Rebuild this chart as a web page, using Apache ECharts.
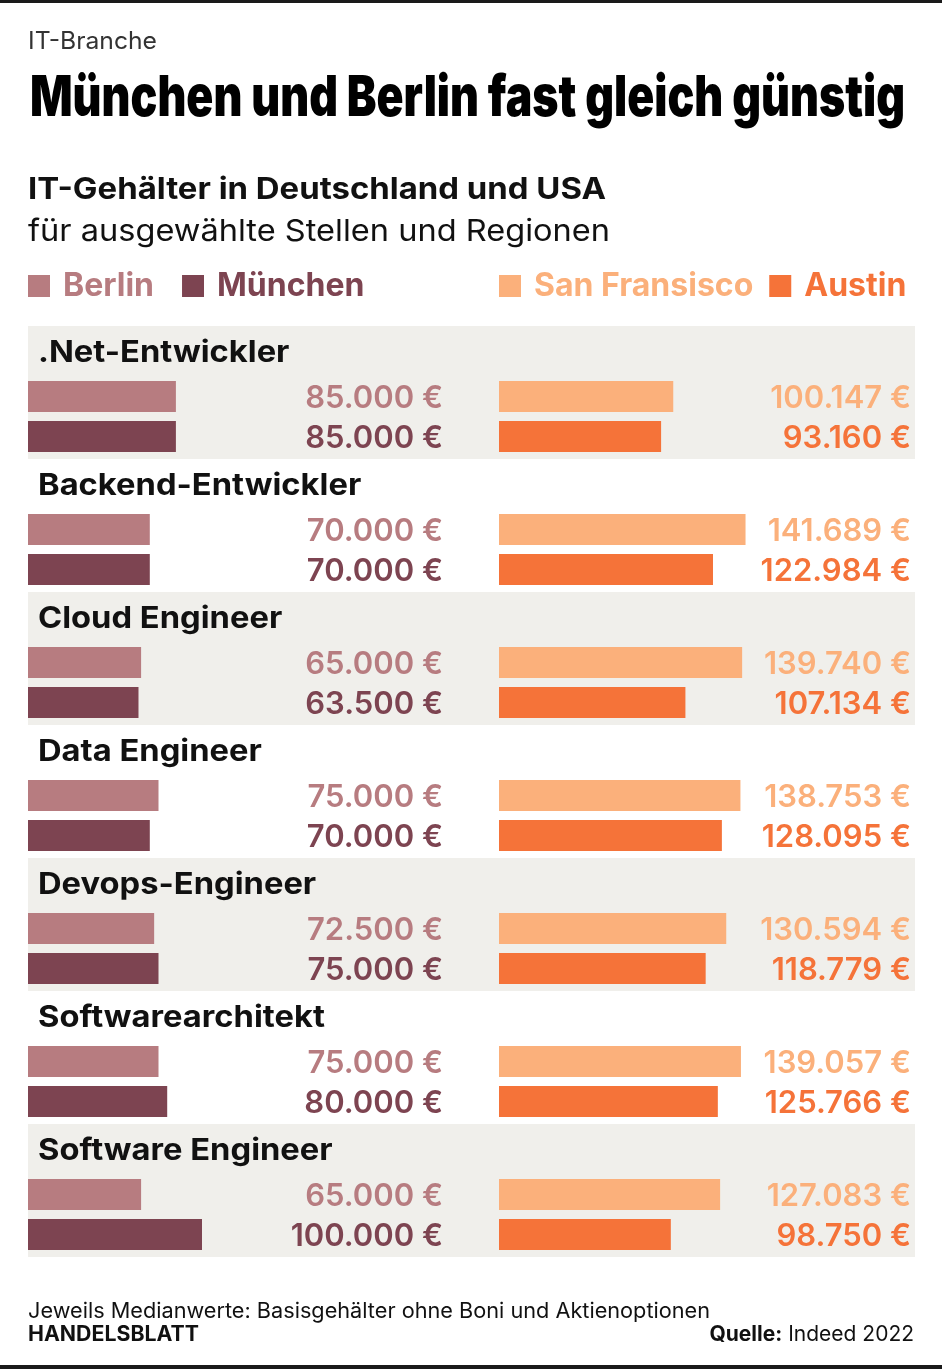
<!DOCTYPE html>
<html>
<head>
<meta charset="utf-8">
<script src="https://cdn.jsdelivr.net/npm/echarts@6/dist/echarts.min.js"></script>
<style>
html,body{margin:0;padding:0;background:#fff;}
#chart{width:942px;height:1369px;}
</style>
</head>
<body>
<div id="chart"></div>
<script>
// ---- data ----
const categories = ['.Net-Entwickler','Backend-Entwickler','Cloud Engineer','Data Engineer','Devops-Engineer','Softwarearchitekt','Software Engineer'];
const seriesNames = ['Berlin','München','San Fransisco','Austin'];
const berlin = [85000,70000,65000,75000,72500,75000,65000];
const muenchen = [85000,70000,63500,70000,75000,80000,100000];
const sanFrancisco = [100147,141689,139740,138753,130594,139057,127083];
const austin = [93160,122984,107134,128095,118779,125766,98750];

const colors = {'Berlin':'#b77c80','München':'#7d4451','San Fransisco':'#fbb07b','Austin':'#f57339'};
const FONT = "Inter, 'Liberation Sans', sans-serif";

function fmt(v){ return String(v).replace(/\B(?=(\d{3})+(?!\d))/g,'.') + ' €'; }

const mctx = document.createElement('canvas').getContext('2d');
function fitScale(text, font, target){ mctx.font = font; const w = mctx.measureText(text).width; return w > 0 ? target / w : 1; }

const GROUP_H = 133, TOP0 = 326;
const grids = [], xAxes = [], yAxes = [], series = [], graphics = [];

// frame lines
graphics.push({type:'rect', shape:{x:0,y:0,width:942,height:3}, style:{fill:'#1a1a1a'}});
graphics.push({type:'rect', shape:{x:0,y:1365,width:942,height:4}, style:{fill:'#1a1a1a'}});

function txt(x,y,text,font,fill,targetW,align){
  const sx = targetW ? fitScale(text, font, targetW) : 1;
  graphics.push({type:'text', x:x, y:y, scaleX:sx, style:{text:text, font:font, fill:fill, align:align||'left', verticalAlign:'middle', textAlign:align||'left', textVerticalAlign:'middle'}});
}
txt(28,42,'IT-Branche','24px '+FONT,'#333',129);
txt(30,99,'München und Berlin fast gleich günstig','900 57px '+FONT,'#000',875);
txt(28,190,'IT-Gehälter in Deutschland und USA','bold 30px '+FONT,'#111',578);
txt(28,232,'für ausgewählte Stellen und Regionen','30px '+FONT,'#111',582);
txt(28,1312,'Jeweils Medianwerte: Basisgehälter ohne Boni und Aktienoptionen','21px '+FONT,'#111',682);
txt(28,1335,'HANDELSBLATT','bold 21px '+FONT,'#111',171);
graphics.push({type:'text', x:914, y:1335, style:{
  text:'{b|Quelle:} Indeed 2022', font:'21px '+FONT, fill:'#111', align:'right', verticalAlign:'middle', textAlign:'right', textVerticalAlign:'middle',
  rich:{b:{fontWeight:'bold', fontSize:21, fontFamily:FONT, fill:'#111', color:'#111'}}
}});

categories.forEach(function(cat,g){
  const top = TOP0 + GROUP_H*g;
  if (g % 2 === 0) {
    graphics.push({type:'rect', z:-10, shape:{x:28,y:top,width:887,height:GROUP_H}, style:{fill:'#f0efeb'}});
  }
  graphics.push({type:'text', x:38, y:top+27, scaleX:1.09, style:{text:cat, font:'bold 30px '+FONT, fill:'#111', align:'left', verticalAlign:'middle', textAlign:'left', textVerticalAlign:'middle'}});

  const sides = [
    {left:28, labelRight:443, names:['Berlin','München'], vals:[berlin[g], muenchen[g]]},
    {left:499, labelRight:911, names:['San Fransisco','Austin'], vals:[sanFrancisco[g], austin[g]]}
  ];
  sides.forEach(function(s){
    const gi = grids.length;
    grids.push({left:s.left, width:348, top: top+50.5, height:80});
    xAxes.push({type:'value', gridIndex:gi, min:0, max:200000, show:false});
    yAxes.push({type:'category', gridIndex:gi, inverse:true, position:'right', data:s.names,
      axisLine:{show:false}, axisTick:{show:false}, splitLine:{show:false},
      axisLabel:{show:true, interval:0, align:'right', verticalAlign:'top', lineHeight:4,
        margin: s.labelRight - (s.left+348),
        fontFamily:FONT, fontSize:31, fontWeight:600,
        color:function(v){ return colors[v]; },
        formatter:function(v,i){ return fmt(s.vals[i]); }}
    });
    s.names.forEach(function(n,k){
      const d = [null,null]; d[k] = s.vals[k];
      series.push({type:'bar', name:n, xAxisIndex:gi, yAxisIndex:gi, data:d, barWidth:31, barGap:'-100%',
        itemStyle:{color:colors[n]}, animation:false, silent:true});
    });
  });
});

const legendCommon = {orient:'horizontal', top:269, itemWidth:22, itemHeight:22, icon:'rect', padding:0,
  textStyle:{fontFamily:FONT, fontSize:32, fontWeight:'bold', lineHeight:32, padding:[2,0,0,8]}, selectedMode:false};
const legends = [
  Object.assign({}, legendCommon, {left:28, itemGap:28, data:['Berlin','München'].map(function(n){return {name:n, textStyle:{color:colors[n]}};})}),
  Object.assign({}, legendCommon, {left:499, itemGap:16, data:['San Fransisco','Austin'].map(function(n){return {name:n, textStyle:{color:colors[n]}};})})
];

const chart = echarts.init(document.getElementById('chart'), null, {renderer:'canvas'});
chart.setOption({
  backgroundColor:'#fff',
  animation:false,
  legend: legends,
  grid: grids, xAxis: xAxes, yAxis: yAxes, series: series,
  graphic: {elements: graphics}
});
</script>
</body>
</html>
